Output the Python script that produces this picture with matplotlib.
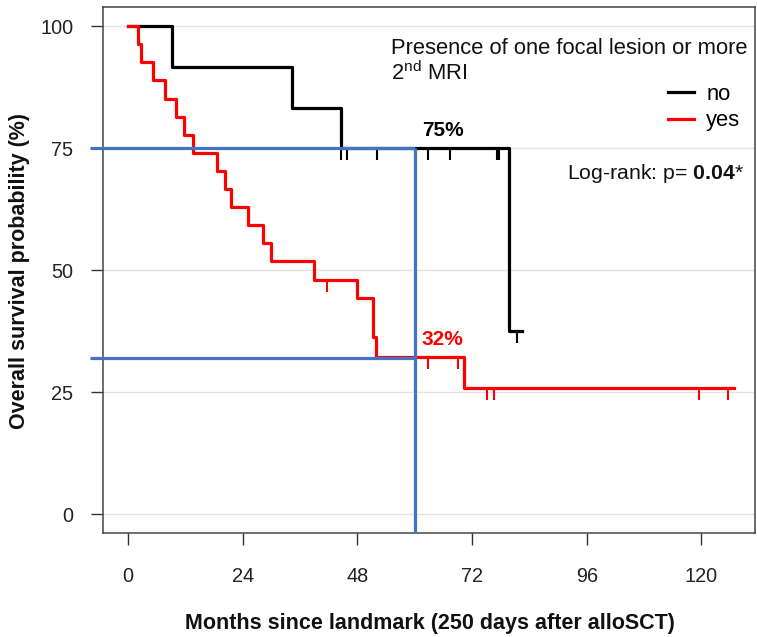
import numpy as np
import matplotlib
matplotlib.use("Agg")
import matplotlib.pyplot as plt
from matplotlib.lines import Line2D

plt.rcParams['font.family'] = ['Liberation Sans', 'DejaVu Sans']
plt.rcParams['mathtext.fontset'] = 'custom'
plt.rcParams['mathtext.rm'] = 'Liberation Sans'
plt.rcParams['mathtext.bf'] = 'Liberation Sans:bold'
plt.rcParams['mathtext.it'] = 'Liberation Sans:italic'

# Kaplan-Meier curves (months, survival %)
no_times = [0, 9.2, 34.3, 44.5, 79.7]
no_surv = [100, 91.7, 83.3, 75.0, 37.5]
no_end = 82.4
no_censor = [44.5, 45.9, 52.0, 62.8, 67.4, 77.1, 77.6, 81.3]

yes_times = [0, 2.0, 2.6, 5.1, 7.7, 10.1, 11.7, 13.6, 18.6, 20.3, 21.6, 25.0,
             28.3, 30.0, 39.0, 48.0, 51.3, 51.9, 70.3]
yes_surv = [100, 96.3, 92.6, 88.9, 85.2, 81.5, 77.8, 74.1, 70.4, 66.7, 63.0,
            59.3, 55.6, 51.9, 48.1, 44.3, 36.3, 32.3, 25.8]
yes_end = 126.8
yes_censor = [41.6, 62.7, 69.1, 75.2, 76.6, 119.5, 125.6]

landmark = 60
no_at_landmark = 75
yes_at_landmark = 32

xticks = [0, 24, 48, 72, 96, 120]
yticks = [0, 25, 50, 75, 100]

W, H = 757, 637
fig = plt.figure(figsize=(W / 100, H / 100), dpi=100)
ax = fig.add_axes([103.3 / W, 1 - 533.3 / H, (755 - 103.3) / W, (533.3 - 7.3) / H])
ax.set_xlim(-5.2, 131.2)
ax.set_ylim(-3.9, 103.9)

for y in yticks:
    ax.axhline(y, color='#e3e3e3', lw=1.0, zorder=0)

# hanging censor mark
tick_mark = [(0, 0), (0, -1)]


def km(times, surv, end, censor, color):
    xs = list(times) + [end]
    ys = list(surv) + [surv[-1]]
    ax.step(xs, ys, where='post', color=color, lw=2.3, zorder=3)
    idx = np.searchsorted(times, censor, side='right') - 1
    cy = np.array(surv)[idx]
    ax.plot(censor, cy, ls='none', marker=tick_mark, markersize=17,
            mec=color, mew=1.5, zorder=3)


km(no_times, no_surv, no_end, no_censor, 'black')
km(yes_times, yes_surv, yes_end, yes_censor, '#ff0000')

blue = '#4472c4'
for lvl in [no_at_landmark, yes_at_landmark]:
    ax.plot([-8, landmark], [lvl, lvl], color=blue, lw=2.3, zorder=5,
            clip_on=False, solid_capstyle='butt')
ax.plot([landmark, landmark], [ax.get_ylim()[0], no_at_landmark], color=blue,
        lw=2.3, zorder=5, solid_capstyle='butt')

ax.text(61.6, 78.7, f'{no_at_landmark}%', color='black', fontsize=15,
        fontweight='bold', ha='left', va='center')
ax.text(61.4, 35.9, f'{yes_at_landmark}%', color='#ff0000', fontsize=15,
        fontweight='bold', ha='left', va='center')

ax.set_xticks(xticks)
ax.set_yticks(yticks)
ax.tick_params(direction='out', length=8.5, width=1.0, color='#333333',
               labelsize=14.3, labelcolor='#222222')
ax.tick_params(axis='x', pad=16)
ax.tick_params(axis='y', pad=13)
for s in ax.spines.values():
    s.set_color('#444444')
    s.set_linewidth(1.1)

ax.text(0.4415, 0.9226, 'Presence of one focal lesion or more', transform=ax.transAxes,
        fontsize=15.8, ha='left', va='center', color='#111111')
ax.text(0.4415, 0.875, r'2$^{\mathrm{nd}}$ MRI', transform=ax.transAxes,
        fontsize=15.8, ha='left', va='center', color='#111111')

handles = [Line2D([], [], color='black', lw=2.3), Line2D([], [], color='#ff0000', lw=2.3)]
ax.legend(handles, ['no', 'yes'], loc='center left', frameon=False,
          bbox_to_anchor=((668 - 103.3) / 651.7, (533.3 - 107.5) / 526),
          fontsize=15.8, handlelength=1.2, handletextpad=0.55,
          labelspacing=0.25, borderpad=0, borderaxespad=0)

ax.text(0.983, 0.684, r'Log-rank: p= $\mathbf{0.04}$*', transform=ax.transAxes,
        fontsize=15.3, ha='right', va='center', color='#111111')

fig.text(20 / W, 1 - 271 / H, 'Overall survival probability (%)', rotation=90,
         fontsize=15.5, fontweight='bold', ha='center', va='center', color='#111111')
fig.text(430 / W, 1 - 623 / H, 'Months since landmark (250 days after alloSCT)',
         fontsize=15.5, fontweight='bold', ha='center', va='center', color='#111111')

fig.savefig('out.png', dpi=100, facecolor='white')
